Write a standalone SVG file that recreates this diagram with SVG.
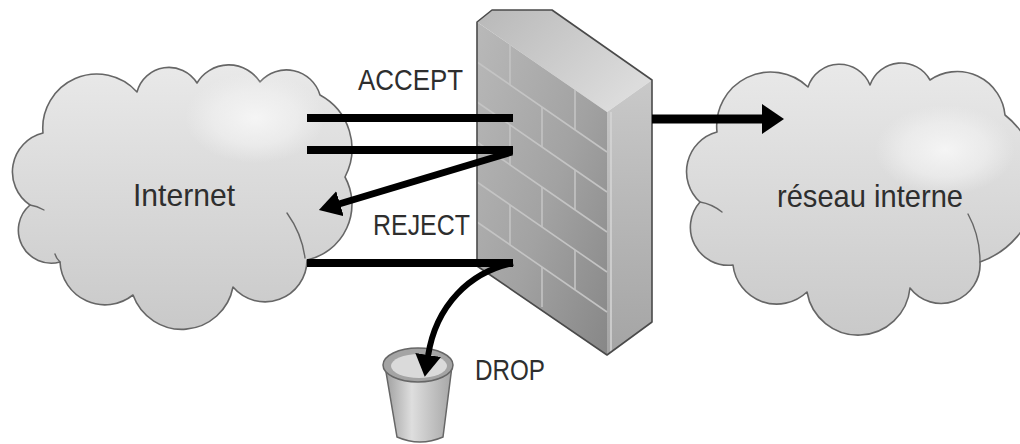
<svg xmlns="http://www.w3.org/2000/svg" xmlns:xlink="http://www.w3.org/1999/xlink" width="1020" height="444" viewBox="0 0 1020 444">
  <style>
    .cloud { fill: url(#cloudFill); stroke: #666; stroke-width: 1.6; stroke-linejoin: round; }
    .tail { fill: none; stroke: #666; stroke-width: 1.4; stroke-linecap: round; }
    .glow { fill: url(#cloudGlow); }
    .label { font-family: "Liberation Sans", Arial, sans-serif; fill: #2e2e2e; }
    .wire { fill: none; stroke: #000; stroke-linecap: butt; }
    .mortar { stroke: #c4c4c4; stroke-width: 1.6; fill: none; }
    .edge { fill: none; stroke: #4a4a4a; stroke-width: 1.6; stroke-linejoin: round; }
  </style>
  <defs>
    <linearGradient id="cloudFill" x1="0" y1="0" x2="0" y2="1">
      <stop offset="0" stop-color="#e9e9e9"/>
      <stop offset="1" stop-color="#c9c9c9"/>
    </linearGradient>
    <radialGradient id="cloudGlow" cx="0.5" cy="0.5" r="0.5">
      <stop offset="0" stop-color="#f6f6f6" stop-opacity="0.95"/>
      <stop offset="0.6" stop-color="#f2f2f2" stop-opacity="0.6"/>
      <stop offset="1" stop-color="#f0f0f0" stop-opacity="0"/>
    </radialGradient>
    <linearGradient id="frontFill" x1="0" y1="0" x2="1" y2="1">
      <stop offset="0" stop-color="#b9b9b9"/>
      <stop offset="0.55" stop-color="#a2a2a2"/>
      <stop offset="1" stop-color="#878787"/>
    </linearGradient>
    <linearGradient id="topFill" x1="0" y1="0" x2="1" y2="0.6">
      <stop offset="0" stop-color="#b8b8b8"/>
      <stop offset="1" stop-color="#dcdcdc"/>
    </linearGradient>
    <linearGradient id="sideFill" x1="0" y1="0" x2="0" y2="1">
      <stop offset="0" stop-color="#c9c9c9"/>
      <stop offset="1" stop-color="#a4a4a4"/>
    </linearGradient>
    <linearGradient id="bucketFill" x1="0" y1="0" x2="1" y2="0">
      <stop offset="0" stop-color="#9e9e9e"/>
      <stop offset="0.4" stop-color="#dedede"/>
      <stop offset="1" stop-color="#a6a6a6"/>
    </linearGradient>
    <path id="cloudLeftShape" d="M43,133 A54,54 0 0 1 137,92 A33,33 0 0 1 197,83 A37,37 0 0 1 260,82 A35,35 0 0 1 320,95 A61,61 0 0 1 345,177 A57,57 0 0 1 307,260 A42,42 0 0 1 233,287 A52,52 0 0 1 133,295 A45,45 0 0 1 60,262 A33,33 0 0 1 30,205 A40,40 0 0 1 43,133 Z"/>
    <path id="cloudRightShape" d="M717,132 A54,54 0 0 1 808,87 A33,33 0 0 1 870,85 A33,33 0 0 1 930,80 A48,48 0 0 1 1005,115 A85,85 0 0 1 980,262 A39,39 0 0 1 910,288 A52,52 0 0 1 807,292 A44,44 0 0 1 733,265 A38,38 0 0 1 700,202 A41,41 0 0 1 717,132 Z"/>
    <clipPath id="clipLeft"><use xlink:href="#cloudLeftShape"/></clipPath>
    <clipPath id="clipRight"><use xlink:href="#cloudRightShape"/></clipPath>
    <marker id="headBig" markerUnits="userSpaceOnUse" viewBox="0 0 22 30" markerWidth="22" markerHeight="30" refX="1" refY="15" orient="auto">
      <path d="M0,0 L22,15 L0,30 Z" fill="#000"/>
    </marker>
    <marker id="headSmall" markerUnits="userSpaceOnUse" viewBox="0 0 22 26" markerWidth="22" markerHeight="26" refX="1" refY="13" orient="auto">
      <path d="M0,0 L22,13 L0,26 Z" fill="#000"/>
    </marker>
  </defs>

  <rect width="1020" height="444" fill="#fff"/>

  <!-- Internet cloud -->
  <g id="cloud-internet">
    <use xlink:href="#cloudLeftShape" class="cloud"/>
    <ellipse class="glow" cx="255" cy="118" rx="70" ry="45" clip-path="url(#clipLeft)"/>
    <path class="tail" d="M30,205 Q37,206 44,210"/>
    <path class="tail" d="M60,262 Q56,258 55,254"/>
    <path class="tail" d="M287,213 Q302,234 305,258"/>
    <text class="label" x="184" y="206" font-size="32" text-anchor="middle" textLength="102" lengthAdjust="spacingAndGlyphs">Internet</text>
  </g>

  <!-- internal network cloud -->
  <g id="cloud-interne">
    <use xlink:href="#cloudRightShape" class="cloud"/>
    <ellipse class="glow" cx="945" cy="150" rx="70" ry="45" clip-path="url(#clipRight)"/>
    <path class="tail" d="M700,202 Q712,204 722,212"/>
    <path class="tail" d="M968,214 Q980,236 980,262"/>
    <text class="label" x="870" y="207" font-size="32" text-anchor="middle" textLength="186" lengthAdjust="spacingAndGlyphs">réseau interne</text>
  </g>

  <!-- firewall brick wall -->
  <g id="firewall">
    <polygon points="477,22 492,10 552,10 652,80 607,112" fill="url(#topFill)"/>
    <polygon points="477,22 607,112 607,355 477,266" fill="url(#frontFill)"/>
    <polygon points="607,112 652,80 652,322 607,355" fill="url(#sideFill)"/>
    <line x1="611" y1="112" x2="611" y2="352" stroke="#d6d6d6" stroke-width="1.5"/>
    <!-- mortar rows -->
    <path class="mortar" d="M477,62 L607,152 M477,102 L607,192 M477,142 L607,232 M477,182 L607,272 M477,222 L607,312"/>
    <!-- mortar joints -->
    <path class="mortar" d="M510,44 V85 M575,90 V130 M542,107 V147 M510,125 V165 M575,170 V210 M542,187 V227 M510,205 V245 M575,250 V290 M542,267 V307"/>
    <path class="edge" d="M477,22 L492,10 L552,10 L652,80 L652,322 L607,355 L477,266 Z"/>
  </g>

  <!-- waste bucket -->
  <g id="bucket">
    <path d="M385,366 L397,437 Q420,447 443,437 L452,366 Z" fill="url(#bucketFill)" stroke="#666" stroke-width="1.5"/>
    <ellipse cx="418" cy="365" rx="35" ry="17" fill="#a4a4a4" stroke="#666" stroke-width="1.5"/>
    <ellipse cx="419" cy="366" rx="28" ry="12" fill="#dadada"/>
  </g>

  <!-- connectors -->
  <g id="connectors">
    <line class="wire" x1="307" y1="118" x2="513" y2="118" stroke-width="8"/>
    <line class="wire" x1="307" y1="150" x2="513" y2="150" stroke-width="8"/>
    <line class="wire" x1="307" y1="263" x2="513" y2="263" stroke-width="8"/>
    <path class="wire" d="M512,152 L339,204" stroke-width="7" marker-end="url(#headSmall)"/>
    <path class="wire" d="M513,263 C470,272 436,305 428,356" stroke-width="6" marker-end="url(#headSmall)"/>
    <path class="wire" d="M652,119 H763" stroke-width="9" marker-end="url(#headBig)"/>
  </g>

  <!-- action labels -->
  <g id="labels">
    <text class="label" x="358" y="90" font-size="29" textLength="105" lengthAdjust="spacingAndGlyphs">ACCEPT</text>
    <text class="label" x="373" y="235" font-size="29" textLength="97" lengthAdjust="spacingAndGlyphs">REJECT</text>
    <text class="label" x="475" y="380" font-size="29" textLength="70" lengthAdjust="spacingAndGlyphs">DROP</text>
  </g>
</svg>
